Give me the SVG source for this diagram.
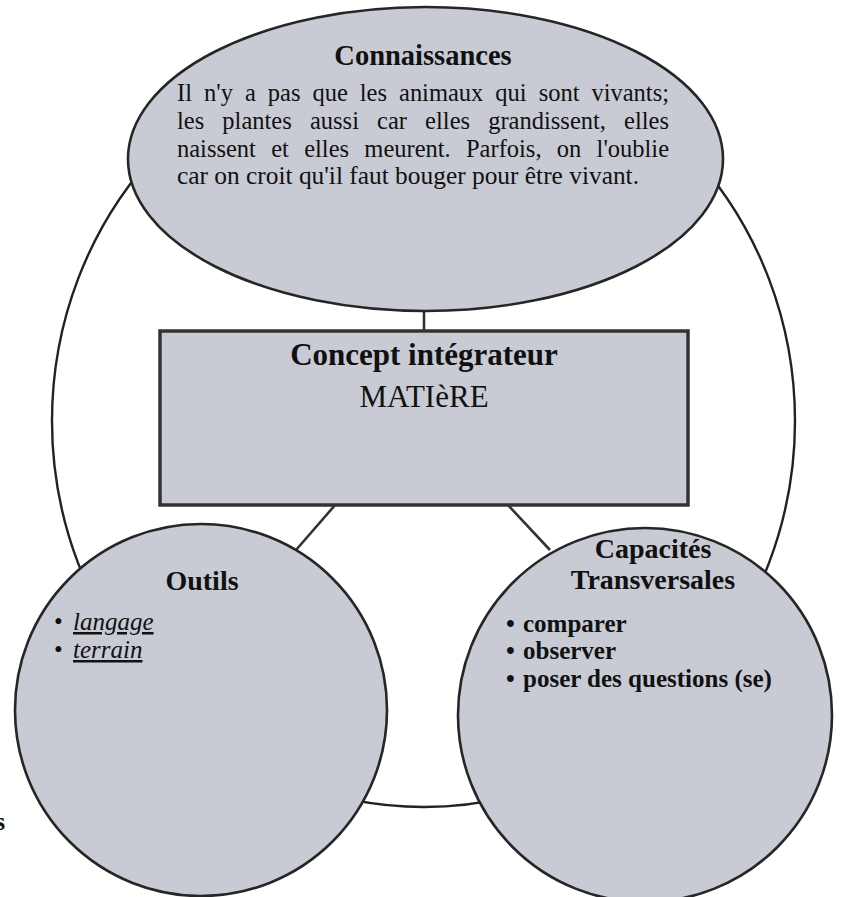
<svg xmlns="http://www.w3.org/2000/svg" width="841" height="897" viewBox="0 0 841 897">
<style>
.node{fill:#c8cbd3;stroke:#262626;stroke-width:2.6}
.ring{fill:#ffffff;stroke:#222222;stroke-width:2.4}
.conn{stroke:#333333;stroke-width:2.6;fill:none}
.t{font-family:"Liberation Serif","Times New Roman",serif;fill:#111111}
.b{font-weight:bold}
.i{font-style:italic;text-decoration:underline}
.mid{text-anchor:middle}
</style>
<rect width="841" height="897" fill="#ffffff"/>
<g id="connectors">
<ellipse class="ring" cx="423.5" cy="421" rx="371.5" ry="386"/>
<line class="conn" x1="424" y1="310" x2="424" y2="332"/>
<line class="conn" x1="336" y1="504" x2="296" y2="550"/>
<line class="conn" x1="507" y1="504" x2="550" y2="550"/>
</g>
<g id="connaissances">
<ellipse class="node" cx="425.5" cy="159" rx="297.5" ry="152"/>
<text class="t b mid" x="423" y="65" font-size="28.5">Connaissances</text>
<text class="t" x="177" y="101" font-size="24.5" word-spacing="5.9" textLength="492" lengthAdjust="spacing">Il n'y a pas que les animaux qui sont vivants;</text>
<text class="t" x="177" y="129" font-size="24.5" word-spacing="12" textLength="492" lengthAdjust="spacing">les plantes aussi car elles grandissent, elles</text>
<text class="t" x="177" y="157" font-size="24.5" word-spacing="9.2" textLength="492" lengthAdjust="spacing">naissent et elles meurent. Parfois, on l'oublie</text>
<text class="t" x="177" y="184" font-size="24.5" textLength="462" lengthAdjust="spacingAndGlyphs">car on croit qu'il faut bouger pour être vivant.</text>
</g>
<g id="concept">
<rect x="160" y="331" width="528" height="174" fill="#c8cbd3" stroke="#333333" stroke-width="3.5"/>
<text class="t b mid" x="424" y="365" font-size="31">Concept intégrateur</text>
<text class="t mid" x="424" y="407" font-size="31">MATIèRE</text>
</g>
<g id="outils">
<circle class="node" cx="201" cy="710" r="186"/>
<text class="t b mid" x="202" y="590" font-size="28">Outils</text>
<text class="t" x="54" y="630" font-size="25">•</text>
<text class="t i" x="73" y="630" font-size="25">langage</text>
<text class="t" x="54" y="658" font-size="25">•</text>
<text class="t i" x="73" y="658" font-size="25">terrain</text>
</g>
<g id="capacites">
<circle class="node" cx="645" cy="715" r="187"/>
<text class="t b mid" x="653" y="558" font-size="28">Capacités</text>
<text class="t b mid" x="653" y="589" font-size="28">Transversales</text>
<text class="t b" x="506" y="632" font-size="25">•</text>
<text class="t b" x="523" y="632" font-size="25">comparer</text>
<text class="t b" x="506" y="659" font-size="25">•</text>
<text class="t b" x="523" y="659" font-size="25">observer</text>
<text class="t b" x="506" y="687" font-size="25">•</text>
<text class="t b" x="523" y="687" font-size="25">poser des questions (se)</text>
</g>
<text class="t b" x="-5" y="830" font-size="26">s</text>
</svg>
